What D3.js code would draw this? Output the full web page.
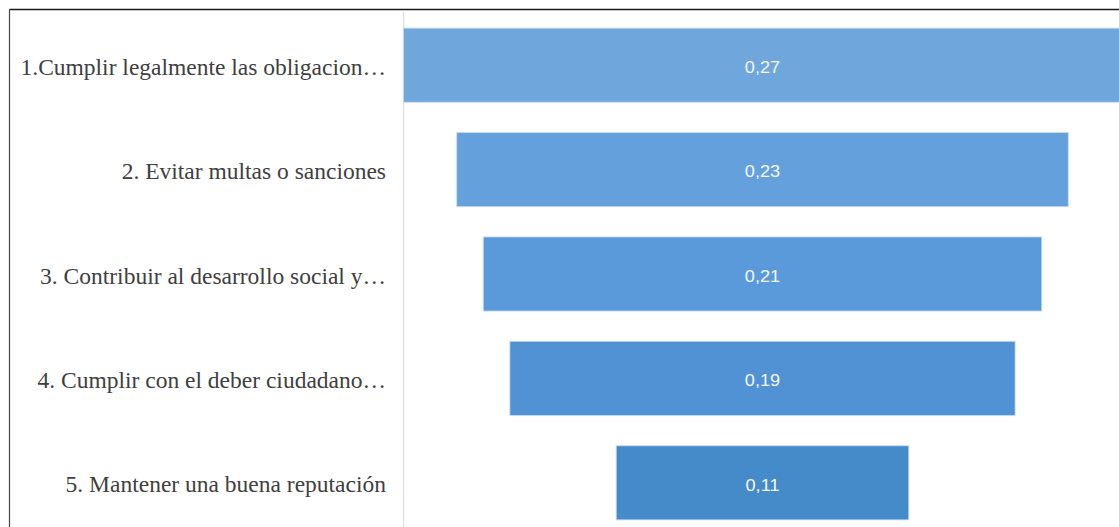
<!DOCTYPE html>
<html>
<head>
<meta charset="utf-8">
<script src="https://cdn.jsdelivr.net/npm/d3@7"></script>
<style>
  html, body { margin: 0; padding: 0; background: #ffffff; }
  svg { display: block; }
</style>
</head>
<body>
<svg id="chart" width="1119" height="527"></svg>
<script>
// Funnel stages (labels as shown, truncated) and their shares
const categories = [
  "1.Cumplir legalmente las obligacion…",
  "2. Evitar multas o sanciones",
  "3. Contribuir al desarrollo social y…",
  "4. Cumplir con el deber ciudadano…",
  "5. Mantener una buena reputación"
];
const values = [0.27, 0.23, 0.21, 0.19, 0.11];
const valueLabels = ["0,27", "0,23", "0,21", "0,19", "0,11"];
const barColors = ["#6fa6dc", "#64a0dc", "#5a9ada", "#5092d4", "#468bc9"];

const W = 1119, H = 527;
const svg = d3.select("#chart");

// plot region: funnel is centred in the area right of the category axis
const plotLeft = 404, centerX = 762.5;
const halfMax = centerX - plotLeft + 0.5;

const y = d3.scaleBand()
  .domain(categories)
  .range([13, 535])
  .paddingInner(0.29)
  .paddingOuter(0.145);

const halfW = d3.scaleLinear()
  .domain([0, d3.max(values)])
  .range([0, halfMax]);

// frame (top and left edges visible)
svg.append("line")
  .attr("x1", 9.5).attr("x2", W).attr("y1", 9.5).attr("y2", 9.5)
  .attr("stroke", "#1a1a1a").attr("stroke-width", 1.5);
svg.append("line")
  .attr("x1", 9.5).attr("x2", 9.5).attr("y1", 9.5).attr("y2", H)
  .attr("stroke", "#444444").attr("stroke-width", 1.2);

// category axis line
svg.append("line")
  .attr("x1", plotLeft - 0.5).attr("x2", plotLeft - 0.5)
  .attr("y1", 12).attr("y2", H)
  .attr("stroke", "#dfe3e8").attr("stroke-width", 1.5);

const rows = categories.map((c, i) => ({ cat: c, value: values[i], label: valueLabels[i], color: barColors[i] }));

// funnel bars
svg.append("g").selectAll("rect")
  .data(rows)
  .join("rect")
  .attr("x", d => centerX - halfW(d.value))
  .attr("y", d => y(d.cat))
  .attr("width", d => 2 * halfW(d.value))
  .attr("height", y.bandwidth())
  .attr("fill", d => d.color)
  .attr("stroke", "#c9dcf1")
  .attr("stroke-opacity", 0.8)
  .attr("stroke-width", 1);

// value labels inside bars (slightly wide lettering)
svg.append("g").selectAll("text")
  .data(rows)
  .join("text")
  .attr("transform", d => `translate(${centerX},${y(d.cat) + y.bandwidth() / 2 + 2}) scale(1.1,1)`)
  .attr("dy", "0.35em")
  .attr("text-anchor", "middle")
  .attr("font-family", "Liberation Sans, Arial, sans-serif")
  .attr("font-size", "16.5px")
  .attr("fill", "#f4f7fb")
  .text(d => d.label);

// category labels
const yAxis = d3.axisLeft(y).tickSize(0).tickPadding(0);
const axisG = svg.append("g")
  .attr("transform", `translate(386,2)`)
  .call(yAxis);
axisG.select(".domain").remove();
axisG.selectAll("text")
  .attr("font-family", "Liberation Serif, 'Times New Roman', serif")
  .attr("font-size", "23.5px")
  .attr("fill", "#404040");
</script>
</body>
</html>
